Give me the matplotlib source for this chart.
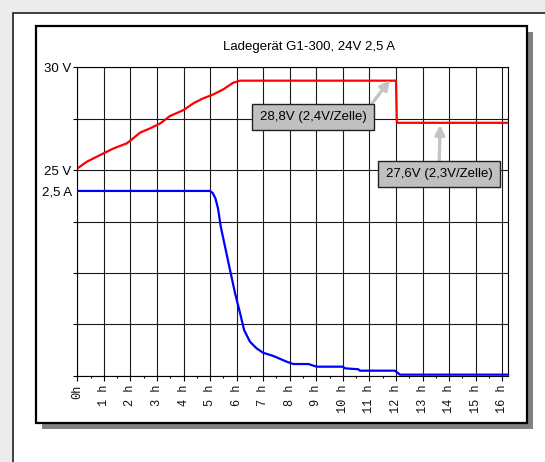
import matplotlib.pyplot as plt
from matplotlib.patches import Rectangle

# Ladekurve, Werte
hours_v = [0, 0.35, 0.73, 0.98, 1.36, 1.86, 2.05, 2.36, 2.74, 3.12, 3.49, 4.0,
           4.37, 4.74, 5.12, 5.50, 5.87, 6.13, 12.0, 12.03, 16.24]
volts = [25.08, 25.40, 25.65, 25.81, 26.05, 26.30, 26.49, 26.82, 27.03, 27.27,
         27.63, 27.92, 28.25, 28.49, 28.68, 28.93, 29.25, 29.35, 29.35, 27.30, 27.30]

hours_a = [0, 5.0, 5.1, 5.2, 5.3, 5.4, 5.56, 5.75, 5.94, 6.13, 6.28, 6.50, 6.75,
           7.0, 7.38, 7.88, 8.13, 8.7, 9.01, 10.0, 10.08, 10.58, 10.64, 11.96,
           12.15, 16.24]
amps = [2.5, 2.5, 2.47, 2.40, 2.26, 2.02, 1.75, 1.43, 1.115, 0.844, 0.618, 0.46, 0.37,
        0.31, 0.267, 0.19, 0.158, 0.158, 0.122, 0.122, 0.10, 0.087, 0.068, 0.068,
        0.014, 0.014]

hour_labels = ['0h'] + ['%d h' % i for i in range(1, 17)]
volt_grid = [15, 17.5, 20, 22.5, 25, 27.5, 30]
volt_labels = ['', '', '', '', '25 V', '', '30 V']

title = 'Ladegerät G1-300, 24V 2,5 A'
note1 = '28,8V (2,4V/Zelle)'
note2 = '27,6V (2,3V/Zelle)'

W, H = 545, 462
fig = plt.figure(figsize=(W / 100, H / 100), dpi=100)
fig.patch.set_facecolor('#ececec')


def px_rect(x0, y0, x1, y1, **kw):
    return Rectangle((x0 / W, 1 - y1 / H), (x1 - x0) / W, (y1 - y0) / H,
                     transform=fig.transFigure, zorder=-10, **kw)


# outer panel and chart frame with shadow
fig.patches.append(px_rect(13, 13, 560, 480, facecolor='white', edgecolor='#202020', lw=1.2))
fig.patches.append(px_rect(42, 32, 533, 429, facecolor='#808080', edgecolor='none'))
fig.patches.append(px_rect(36, 26, 527, 423, facecolor='white', edgecolor='black', lw=1.6))

ax = fig.add_axes([77.3 / W, 1 - 375.7 / H, (508.5 - 77.3) / W, (375.7 - 67.3) / H])
ax.set_facecolor('none')
ax.set_xlim(0, 16.235)
ax.set_ylim(15, 30)

ax.set_xticks(range(17))
ax.set_xticklabels(hour_labels, rotation=90, family='Liberation Mono', fontsize=8.6,
                   color='#101010')
ax.set_xticks([i + 0.5 for i in range(16)], minor=True)
ax.set_yticks(volt_grid)
ax.set_yticklabels(volt_labels, family='Liberation Sans', fontsize=9.5)
ax.tick_params(axis='x', which='major', length=3.3, width=0.8, pad=3.0)
ax.tick_params(axis='x', which='minor', length=1.6, width=0.8)
ax.tick_params(axis='y', length=3, width=0.8, pad=1)
ax.grid(True, which='major', color='#1a1a1a', lw=0.8)
for s in ax.spines.values():
    s.set_color('black')
    s.set_linewidth(0.8)

ax.plot(hours_v, volts, color='#ff0000', lw=1.6, solid_joinstyle='round')

ax2 = ax.twinx()
ax2.set_ylim(0, 4.173)
ax2.yaxis.tick_left()
ax2.set_yticks([2.5])
ax2.set_yticklabels(['2,5 A'], family='Liberation Sans', fontsize=9.5)
ax2.tick_params(axis='y', length=0, pad=4)
for s in ax2.spines.values():
    s.set_visible(False)
ax2.plot(hours_a, amps, color='#0000ff', lw=1.6, solid_joinstyle='round')

box = dict(boxstyle='square,pad=0.55', facecolor='#c0c0c0', edgecolor='#202020', lw=1)
arrow = dict(arrowstyle='-|>', color='#c4c4c4', lw=2.4, mutation_scale=14,
             shrinkA=0, shrinkB=0)
ax.annotate(note1, xy=(11.77, 29.38), xytext=(8.87, 27.58), ha='center', va='center',
            family='Liberation Sans', fontsize=9.5, bbox=box,
            arrowprops=dict(arrow, relpos=(1.0, 1.0)), zorder=5)
ax.annotate(note2, xy=(13.66, 27.2), xytext=(13.62, 24.8), ha='center', va='center',
            family='Liberation Sans', fontsize=9.5, bbox=box,
            arrowprops=dict(arrow, relpos=(0.5, 1.0)), zorder=5)

fig.text(309 / W, 1 - 47 / H, title, ha='center', va='center',
         family='Liberation Sans', fontsize=9.5)

fig.savefig('out.png', dpi=100, facecolor=fig.get_facecolor())
